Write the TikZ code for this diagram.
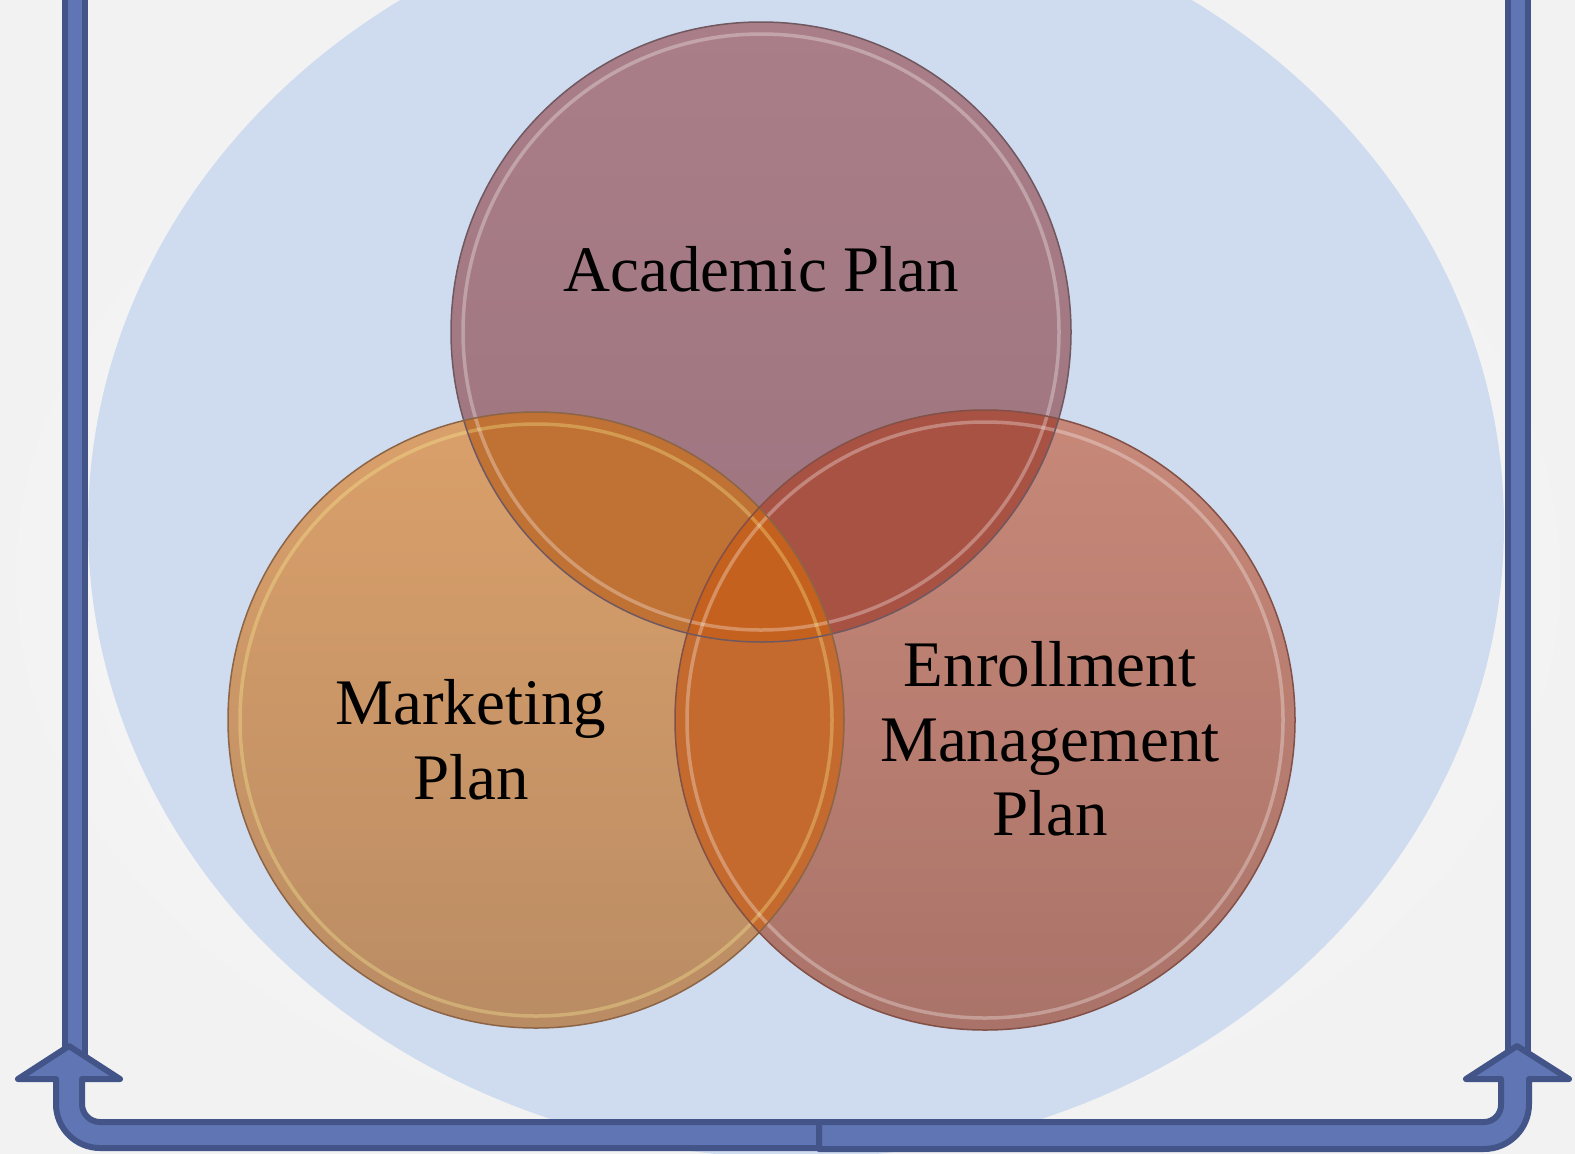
\documentclass[tikz,border=0pt]{standalone}
\usepackage{fontspec}
\setmainfont{Liberation Serif}

\definecolor{barfill}{RGB}{96,117,179}
\definecolor{barline}{RGB}{66,84,136}
\definecolor{halo}{RGB}{207,220,239}
\definecolor{acadtop}{RGB}{170,126,136}
\definecolor{acadbot}{RGB}{156,116,127}
\definecolor{acadrim}{RGB}{112,88,96}
\definecolor{markettop}{RGB}{218,160,106}
\definecolor{marketbot}{RGB}{186,140,100}
\definecolor{marketrim}{RGB}{140,100,70}
\definecolor{enroltop}{RGB}{199,136,120}
\definecolor{enrolbot}{RGB}{170,115,105}
\definecolor{enrolrim}{RGB}{130,80,70}
\definecolor{acadmarket}{RGB}{192,113,52}
\definecolor{acadenrol}{RGB}{168,82,68}
\definecolor{marketenrol}{RGB}{196,106,46}
\definecolor{allthree}{RGB}{197,97,30}

\begin{document}
\begin{tikzpicture}[x=0.02cm,y=-0.02cm]
        \tikzstyle{bar}=[fill=barfill,draw=barline,line width=0.12cm,line join=round]
        \tikzstyle{rim}=[draw=#1,line width=0.03cm]
        \tikzstyle{gloss}=[draw=#1,line width=0.07cm,opacity=0.3]
        \tikzstyle{plan}=[align=center,inner sep=0pt,text=black,font=\fontsize{37}{42.5}\selectfont]

        \useasboundingbox (0,0) rectangle (1575,1153);
        \shade[inner color=white,outer color=black!5] (0,0) rectangle (1575,1153);

        % pale backdrop disc
        \fill[halo] (796,525) ellipse [x radius=708, y radius=633];

        \coordinate (acad)   at (761,332);
        \coordinate (market) at (536,720);
        \coordinate (enrol)  at (985,720);

        % the three plans
        \shade[top color=acadtop,bottom color=acadbot]     (acad)   circle (310);
        \shade[top color=markettop,bottom color=marketbot] (market) circle (308);
        \shade[top color=enroltop,bottom color=enrolbot]   (enrol)  circle (310);

        % overlaps
        \begin{scope}
          \clip (acad) circle (310);
          \fill[acadmarket] (market) circle (308);
          \fill[acadenrol]  (enrol)  circle (310);
        \end{scope}
        \begin{scope}
          \clip (market) circle (308);
          \fill[marketenrol] (enrol) circle (310);
          \clip (acad) circle (310);
          \fill[allthree] (enrol) circle (310);
        \end{scope}

        % glassy rims
        \draw[gloss=white]           (acad)   circle (298);
        \draw[gloss=yellow!40]       (market) circle (296);
        \draw[gloss=white]           (enrol)  circle (298);
        \draw[rim=acadrim]   (acad)   circle (310);
        \draw[rim=marketrim] (market) circle (308);
        \draw[rim=enrolrim]  (enrol)  circle (310);

        \node[plan,anchor=base] (acadtext)   at (761,291) {Academic Plan};
        \node[plan]             (markettext) at (471,740) {Marketing\\Plan};
        \node[plan]             (enroltext)  at (1050,739) {Enrollment\\Management\\Plan};

        % side rails
        \draw[bar] (65,-10) rectangle (85,1060);
        \draw[bar] (1508,-10) rectangle (1528,1060);

        % u-turn arrows along the bottom
        \draw[bar] (69,1046) -- (18,1079) -- (56,1079) -- (56,1104)
                   arc[start angle=180,end angle=90,radius=44] -- (819,1148) -- (819,1122) -- (100,1122)
                   arc[start angle=90,end angle=180,radius=18] -- (82,1079) -- (120,1079) -- cycle;
        \draw[bar] (1517,1046) -- (1569,1079) -- (1529,1079) -- (1529,1104)
                   arc[start angle=0,end angle=90,radius=45] -- (819,1149) -- (819,1122) -- (1484,1122)
                   arc[start angle=90,end angle=0,radius=17] -- (1501,1079) -- (1466,1079) -- cycle;
      \end{tikzpicture}
\end{document}
